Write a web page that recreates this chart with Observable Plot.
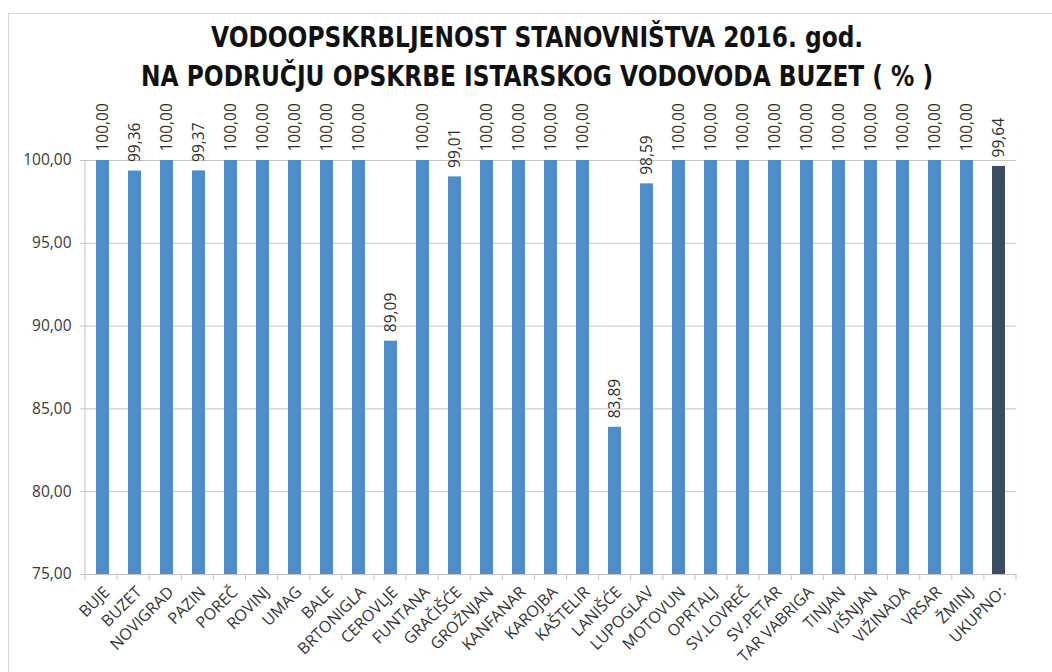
<!DOCTYPE html>
<html><head><meta charset="utf-8">
<script src="https://cdn.jsdelivr.net/npm/d3@7"></script>
<script src="https://cdn.jsdelivr.net/npm/@observablehq/plot@0.6"></script>
<style>
body{margin:0;background:#fff;}
#wrap{position:relative;width:1052px;height:672px;overflow:hidden;background:#fff}
#frame{position:absolute;left:8px;top:13px;width:1100px;height:700px;border-left:1.5px solid #d4d4d4;border-top:1.5px solid #d4d4d4}
#title{position:absolute;left:0;top:18px;width:1074px;text-align:center;}
#title div{display:inline-block;transform:scaleX(0.925);transform-origin:center;font-family:"DejaVu Sans Condensed","Open Sans",sans-serif;font-weight:bold;font-size:28px;line-height:39px;color:#111;white-space:nowrap}
#chart{position:absolute;left:0;top:90px}
</style></head>
<body><div id="wrap"><div id="frame"></div>
<div id="title"><div>VODOOPSKRBLJENOST STANOVNIŠTVA 2016. god.<br>NA PODRUČJU OPSKRBE ISTARSKOG VODOVODA BUZET ( % )</div></div>
<div id="chart"></div></div>
<script>
const regions = ["BUJE","BUZET","NOVIGRAD","PAZIN","POREČ","ROVINJ","UMAG","BALE","BRTONIGLA","CEROVLJE","FUNTANA","GRAČIŠĆE","GROŽNJAN","KANFANAR","KAROJBA","KAŠTELIR","LANIŠĆE","LUPOGLAV","MOTOVUN","OPRTALJ","SV.LOVREČ","SV.PETAR","TAR VABRIGA","TINJAN","VIŠNJAN","VIŽINADA","VRSAR","ŽMINJ","UKUPNO:"];
const values = [100,99.36,100,99.37,100,100,100,100,100,89.09,100,99.01,100,100,100,100,83.89,98.59,100,100,100,100,100,100,100,100,100,100,99.64];
const totalLabel = "UKUPNO:";
const yTicks = [75,80,85,90,95,100];
const yMin = 75, yMax = 100;

const data = regions.map((r,i)=>({region:r, value:values[i], total:r===totalLabel}));
const fmt = v => v.toFixed(2).replace(".", ",");
const gray = "#c4c4c4";

const plot = Plot.plot({
  width:1052, height:582, marginTop:70, marginBottom:98, marginLeft:85, marginRight:36,
  style:{fontFamily:"'Open Sans', sans-serif", fontSize:"15px", color:"#404040", background:"transparent"},
  x:{domain:regions, paddingInner:0.6, paddingOuter:0.3, label:null},
  y:{domain:[yMin,yMax], label:null},
  color:{type:"identity"},
  marks:[
    Plot.gridY(yTicks, {stroke:gray, strokeOpacity:1}),
    Plot.axisY(yTicks, {tickSize:5, tickPadding:9, tickFormat:fmt, stroke:gray, fill:"#3a3a3a", fontSize:15.5, label:null}),
    Plot.axisX({tickSize:0, tickRotate:-45, tickPadding:15, dx:4, fontSize:16, fill:"#333", label:null}),
    Plot.barY(data, {x:"region", y1:yMin, y2:"value", fill:d=>d.total?"#3a4c61":"#4f8dca"}),
    Plot.ruleY([yMin], {stroke:gray}),
    Plot.text(data, {x:"region", y:"value", text:d=>fmt(d.value), rotate:-90, textAnchor:"start", dy:-9, fontSize:15.5, fill:"#2e2e2e"})
  ]
});

// y axis line and tick marks at band boundaries, from the plot's own scales
const sx = plot.scale("x");
const root = plot.tagName.toLowerCase()==="svg" ? d3.select(plot) : d3.select(plot).select("svg");
const [r0, r1] = sx.range;
const step = (r1 - r0) / (regions.length - sx.paddingInner + 2*sx.paddingOuter);
const start = r0 + step*sx.paddingOuter - step*sx.paddingInner/2;
const yBase = 70 + (582-70-98);
const g = root.append("g").attr("stroke", gray);
g.append("line").attr("x1",85).attr("x2",85).attr("y1",70).attr("y2",yBase);
for (let i=0;i<=regions.length;i++){
  const xx = Math.max(r0, Math.min(r1, start + i*step));
  g.append("line").attr("x1",xx).attr("x2",xx).attr("y1",yBase).attr("y2",yBase+6);
}
document.getElementById("chart").appendChild(plot);
</script></body></html>
